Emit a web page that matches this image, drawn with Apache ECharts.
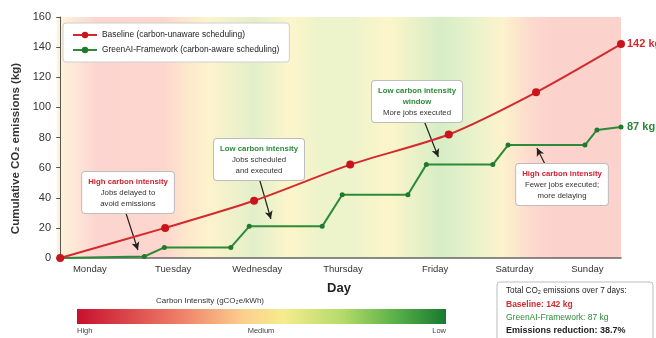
<!DOCTYPE html>
<html>
<head>
<meta charset="utf-8">
<script src="https://cdn.jsdelivr.net/npm/echarts@6/dist/echarts.min.js"></script>
<style>
	html, body { margin: 0; padding: 0; background: #fff; }
	#chart { width: 656px; height: 338px; }
</style>
</head>
<body>
<div id="chart"></div>
<script>
	// data (x = day position, 0 = start of Monday)
	var baselinePts = [[0, 0], [1.31, 20], [2.42, 38], [3.62, 62], [4.85, 82], [5.94, 110], [7, 142]];
	var greenPts = [[0, 0], [1.05, 1], [1.30, 7], [2.13, 7], [2.36, 21], [3.27, 21], [3.52, 42], [4.34, 42],
		[4.57, 62], [5.40, 62], [5.59, 75], [6.55, 75], [6.70, 85], [7, 87]];
	var dayNames = ['Monday', 'Tuesday', 'Wednesday', 'Thursday', 'Friday', 'Saturday', 'Sunday'];
	var dayPos = [0.37, 1.41, 2.46, 3.53, 4.68, 5.67, 6.58];
	var gridPos = [0.87, 1.91, 3.19, 4.14, 5.27, 6.11];
	var yTicks = [0, 20, 40, 60, 80, 100, 120, 140, 160];
	var totals = { baseline: 142, green: 87, reduction: '38.7%' };

	var RED = '#d42a2e';
	var GREEN = '#2c8a38';
	var FONT = 'Liberation Sans, Arial, sans-serif';

	var myChart = echarts.init(document.getElementById('chart'));

	// background carbon intensity bands
	var bandColor = new echarts.graphic.LinearGradient(0, 0, 1, 0, [
		{ offset: 0, color: '#fdf5d8' },
		{ offset: 0.035, color: '#fde6d8' },
		{ offset: 0.07, color: '#fdd5d0' },
		{ offset: 0.19, color: '#fdd6ce' },
		{ offset: 0.23, color: '#fde8cc' },
		{ offset: 0.27, color: '#fdf3cc' },
		{ offset: 0.35, color: '#e2efca' },
		{ offset: 0.41, color: '#fdf5ca' },
		{ offset: 0.47, color: '#edf3cb' },
		{ offset: 0.52, color: '#edf3cb' },
		{ offset: 0.59, color: '#fdf5ca' },
		{ offset: 0.68, color: '#d6edc6' },
		{ offset: 0.75, color: '#edf3cb' },
		{ offset: 0.79, color: '#fdf2cc' },
		{ offset: 0.84, color: '#fcdace' },
		{ offset: 0.88, color: '#fcd2cd' },
		{ offset: 1, color: '#fcd2cd' }
	]);

	// annotation box helper
	function note(cx, top, head, headColor, body) {
		return {
			type: 'text',
			x: cx,
			y: top,
			z: 100,
			style: {
				text: '{h|' + head.join('}\n{h|') + '}\n' + body.join('\n'),
				rich: {
					h: { fill: headColor, fontWeight: 'bold', fontSize: 7.8, fontFamily: FONT, lineHeight: 11 }
				},
				fill: '#333',
				fontSize: 7.8,
				fontFamily: FONT,
				lineHeight: 11,
				align: 'center',
				verticalAlign: 'top',
				backgroundColor: '#fff',
				borderColor: '#bdbdbd',
				borderWidth: 1,
				borderRadius: 3,
				padding: [4, 6, 4, 6]
			}
		};
	}

	function arrow(a, b) {
		return [{ coord: a }, { coord: b }];
	}

	option = {
		animation: false,
		textStyle: { fontFamily: FONT },
		grid: { left: 57, right: 35, top: 17, bottom: 80 },
		legend: {
			left: 63,
			top: 23,
			orient: 'vertical',
			backgroundColor: '#fff',
			borderColor: '#cfcfcf',
			borderWidth: 1,
			borderRadius: 3,
			padding: [8, 10, 8, 9],
			itemGap: 7,
			itemWidth: 24,
			itemHeight: 8,
			textStyle: { fontSize: 8.4, color: '#222', fontFamily: FONT },
			data: ['Baseline (carbon-unaware scheduling)', 'GreenAI-Framework (carbon-aware scheduling)']
		},
		xAxis: {
			type: 'value',
			min: -0.04,
			max: 7,
			name: 'Day',
			nameLocation: 'middle',
			nameGap: 24,
			nameTextStyle: { fontSize: 13, fontWeight: 'bold', color: '#222' },
			axisLine: { show: true, lineStyle: { color: '#666', width: 1.5 } },
			axisTick: { show: false, customValues: gridPos },
			splitLine: { show: true, lineStyle: { color: '#cfcfcf', type: [2, 3], width: 0.8 } },
			axisLabel: {
				customValues: dayPos,
				fontSize: 9.5,
				color: '#333',
				margin: 6,
				formatter: function (v) {
					for (var i = 0; i < dayPos.length; i++) {
						if (Math.abs(dayPos[i] - v) < 0.001) return dayNames[i];
					}
					return '';
				}
			}
		},
		yAxis: {
			type: 'value',
			min: 0,
			max: 160,
			interval: 20,
			name: 'Cumulative CO\u2082 emissions (kg)',
			nameLocation: 'middle',
			nameGap: 32,
			nameTextStyle: { fontSize: 11.5, fontWeight: 'bold', color: '#333', padding: [0, 22, 0, 0] },
			axisLine: { show: true, lineStyle: { color: '#555', width: 1 } },
			axisTick: { show: true, length: 4, lineStyle: { color: '#555' } },
			splitLine: { show: false },
			axisLabel: {
				fontSize: 11,
				color: '#333',
				margin: 6,
				formatter: function (v) { return yTicks.indexOf(v) >= 0 ? String(v) : ''; }
			}
		},
		series: [{
			name: 'Baseline (carbon-unaware scheduling)',
			type: 'line',
			data: baselinePts,
			smooth: 0.25,
			symbol: 'circle',
			symbolSize: 8,
			color: RED,
			lineStyle: { color: RED, width: 2 },
			itemStyle: { color: '#c8141c' },
			z: 5,
			endLabel: {
				show: true,
				distance: 6,
				color: RED,
				fontSize: 11,
				fontWeight: 'bold',
				formatter: function (p) { return p.value[1] + ' kg'; }
			},
			markArea: {
				silent: true,
				z: 0,
				itemStyle: { color: bandColor },
				data: [[{ coord: [-0.04, 0] }, { coord: [7, 160] }]]
			}
		}, {
			name: 'GreenAI-Framework (carbon-aware scheduling)',
			type: 'line',
			data: greenPts,
			symbol: 'circle',
			symbolSize: 5,
			showSymbol: true,
			color: GREEN,
			lineStyle: { color: GREEN, width: 2 },
			itemStyle: { color: '#1f7a2c' },
			z: 4,
			endLabel: {
				show: true,
				distance: 6,
				color: GREEN,
				fontSize: 11,
				fontWeight: 'bold',
				formatter: function (p) { return p.value[1] + ' kg'; }
			},
			markLine: {
				silent: true,
				symbol: ['none', 'arrow'],
				symbolSize: [6, 8],
				label: { show: false },
				lineStyle: { color: '#222', width: 1.2, type: 'solid' },
				data: [
					arrow([0.82, 29.9], [0.97, 5.3]),
					arrow([2.49, 51.8], [2.63, 25.9]),
					arrow([4.54, 91.3], [4.72, 67.1]),
					arrow([6.05, 62.4], [5.95, 73.0])
				]
			}
		}],
		graphic: [
			note(128, 172, ['High carbon intensity'], '#d02030', ['Jobs delayed to', 'avoid emissions']),
			note(259, 139, ['Low carbon intensity'], GREEN, ['Jobs scheduled', 'and executed']),
			note(417, 81, ['Low carbon intensity', 'window'], GREEN, ['More jobs executed']),
			note(562, 164, ['High carbon intensity'], '#d02030', ['Fewer jobs executed;', 'more delaying']),
			// colour bar
			{
				type: 'text',
				x: 210, y: 297,
				style: { text: 'Carbon Intensity (gCO\u2082e/kWh)', fontSize: 8, fill: '#333', fontFamily: FONT, align: 'center' }
			},
			{
				type: 'rect',
				shape: { x: 77, y: 309, width: 369, height: 15 },
				style: {
					fill: new echarts.graphic.LinearGradient(0, 0, 1, 0, [
						{ offset: 0, color: '#c8102e' },
						{ offset: 0.28, color: '#ef7f68' },
						{ offset: 0.45, color: '#fbcf8e' },
						{ offset: 0.56, color: '#f6ec8c' },
						{ offset: 0.72, color: '#b4db68' },
						{ offset: 0.86, color: '#5cb14a' },
						{ offset: 1, color: '#177a30' }
					])
				}
			},
			{ type: 'text', x: 77, y: 327, style: { text: 'High', fontSize: 7.5, fill: '#444', fontFamily: FONT } },
			{ type: 'text', x: 261, y: 327, style: { text: 'Medium', fontSize: 7.5, fill: '#444', fontFamily: FONT, align: 'center' } },
			{ type: 'text', x: 446, y: 327, style: { text: 'Low', fontSize: 7.5, fill: '#444', fontFamily: FONT, align: 'right' } },
			// totals box
			{
				type: 'rect',
				shape: { x: 497, y: 282, width: 156, height: 62, r: 3 },
				style: { fill: '#fff', stroke: '#bdbdbd', lineWidth: 1 }
			},
			{ type: 'text', x: 506, y: 287, style: { text: 'Total CO\u2082 emissions over 7 days:', fontSize: 8.2, fill: '#222', fontFamily: FONT } },
			{ type: 'text', x: 506, y: 300, style: { text: 'Baseline: ' + totals.baseline + ' kg', fontSize: 8.5, fontWeight: 'bold', fill: RED, fontFamily: FONT } },
			{ type: 'text', x: 506, y: 313, style: { text: 'GreenAI-Framework: ' + totals.green + ' kg', fontSize: 8.5, fill: GREEN, fontFamily: FONT } },
			{ type: 'text', x: 506, y: 326, style: { text: 'Emissions reduction: ' + totals.reduction, fontSize: 9, fontWeight: 'bold', fill: '#222', fontFamily: FONT } }
		]
	};
	myChart.setOption(option);
</script>
</body>
</html>
